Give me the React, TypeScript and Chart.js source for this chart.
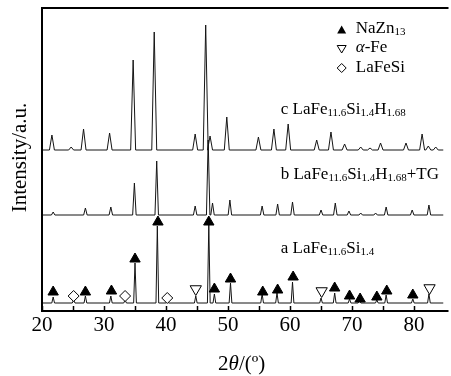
import React, { useEffect, useRef } from 'react';
import { Chart, registerables } from 'chart.js';

Chart.register(...registerables);

// ---------- data (y in arbitrary intensity units) ----------
const xTickLabels = [20, 30, 40, 50, 60, 70, 80];
const xTickMarks = [20, 25, 30, 35, 40, 45, 50, 55, 60, 65, 70, 75, 80];

// trace c: LaFe11.6Si1.4H1.68
const cBase = 160;
const cPeakX = [21.6, 24.7, 26.7, 30.9, 34.7, 38.1, 44.7, 46.4, 47.1, 49.8, 54.9, 57.4, 59.7, 64.3, 66.6, 68.8, 71.4, 72.9, 74.6, 78.7, 81.3, 82.3, 83.5];
const cPeakY = [175, 163, 181, 177, 250, 278, 176, 285, 174, 193, 173, 181, 186, 170, 178, 166, 163, 162, 167, 167, 176, 164, 163];

// trace b: LaFe11.6Si1.4H1.68+TG
const bBase = 95;
const bPeakX = [21.8, 27.0, 31.1, 34.9, 38.5, 44.7, 46.8, 47.5, 50.3, 55.5, 58.0, 60.4, 65.0, 67.3, 69.5, 71.4, 73.8, 75.5, 79.7, 82.4];
const bPeakY = [98, 102, 103, 127, 149, 104, 170, 107, 110, 104, 106, 108, 100, 107, 99, 97, 97, 103, 100, 105];

// trace a: LaFe11.6Si1.4
const aBase = 7;
const aPeakX = [21.8, 25.1, 27.0, 31.1, 33.4, 35.0, 38.6, 40.2, 44.8, 46.9, 47.8, 50.4, 55.5, 57.9, 60.4, 65.0, 67.2, 69.6, 71.2, 74.0, 75.5, 79.8, 82.4];
const aPeakY = [13, 10, 14, 14, 10, 47, 84, 9, 14, 86, 16, 27, 16, 17, 28, 12, 17, 11, 10, 10, 15, 11, 16];

// phase markers
const nazX = [21.8, 27.0, 31.2, 35.0, 38.7, 46.9, 47.8, 50.4, 55.6, 58.0, 60.5, 67.2, 69.6, 71.3, 74.0, 75.6, 79.8];
const nazY = [18, 18, 19, 51, 88, 88, 21, 31, 18, 20, 33, 22, 14, 11, 13, 19, 15];
const feX = [44.8, 65.1, 82.5];
const feY = [21, 19, 22];
const lfsX = [25.1, 33.4, 40.2];
const lfsY = [14, 14, 12];

const xMin = 20;
const xMax = 84.75;
const yMin = -1;
const yMax = 302;

type Part = [string, string?];
const labelC: Part[] = [['c LaFe'], ['11.6', 'sub'], ['Si'], ['1.4', 'sub'], ['H'], ['1.68', 'sub']];
const labelB: Part[] = [['b LaFe'], ['11.6', 'sub'], ['Si'], ['1.4', 'sub'], ['H'], ['1.68', 'sub'], ['+TG']];
const labelA: Part[] = [['a LaFe'], ['11.6', 'sub'], ['Si'], ['1.4', 'sub']];
const legendNaz: Part[] = [['NaZn'], ['13', 'sub']];
const legendFe: Part[] = [['α', 'it'], ['-Fe']];
const legendLfs: Part[] = [['LaFeSi']];
const xTitle: Part[] = [['2'], ['θ', 'it'], ['/(º)']];
const yTitle = 'Intensity/a.u.';

function buildTrace(base: number, xs: number[], ys: number[], hw: number) {
  const pts: { x: number; y: number }[] = [{ x: xMin, y: base }];
  xs.forEach((x, i) => {
    pts.push({ x: x - hw, y: base });
    pts.push({ x, y: ys[i] });
    pts.push({ x: x + hw, y: base });
  });
  pts.push({ x: xMax, y: base });
  return pts;
}

const FONT = '"Liberation Serif", "Times New Roman", serif';

function richWidth(ctx: CanvasRenderingContext2D, parts: Part[], size: number) {
  let w = 0;
  for (const [t, s] of parts) {
    const fs = s === 'sub' ? Math.round(size * 0.65) : size;
    ctx.font = `${s === 'it' ? 'italic ' : ''}${fs}px ${FONT}`;
    w += ctx.measureText(t).width;
  }
  return w;
}

function drawRich(ctx: CanvasRenderingContext2D, x: number, y: number, parts: Part[], size: number, align = 'left') {
  let cx = align === 'center' ? x - richWidth(ctx, parts, size) / 2 : x;
  ctx.textAlign = 'left';
  ctx.textBaseline = 'alphabetic';
  for (const [t, s] of parts) {
    const fs = s === 'sub' ? Math.round(size * 0.65) : size;
    ctx.font = `${s === 'it' ? 'italic ' : ''}${fs}px ${FONT}`;
    ctx.fillText(t, cx, y + (s === 'sub' ? 2 : 0));
    cx += ctx.measureText(t).width;
  }
}

const decor = {
  id: 'decor',
  afterDraw(chart: any) {
    const { ctx, chartArea: ca, scales } = chart;
    const xs = scales.x;
    const ys = scales.y;
    ctx.save();
    ctx.fillStyle = '#000';
    ctx.strokeStyle = '#000';
    // frame (right side lies outside the cropped figure)
    ctx.lineWidth = 2;
    ctx.beginPath();
    ctx.moveTo(ca.right + 5, ca.top);
    ctx.lineTo(ca.left, ca.top);
    ctx.lineTo(ca.left, ca.bottom);
    ctx.lineTo(ca.right + 5, ca.bottom);
    ctx.stroke();
    // inward ticks
    ctx.lineWidth = 1.5;
    for (const v of xTickMarks) {
      const px = Math.round(xs.getPixelForValue(v)) + 0.5;
      ctx.beginPath();
      ctx.moveTo(px, ca.bottom);
      ctx.lineTo(px, ca.bottom - 5);
      ctx.stroke();
    }
    // y title
    ctx.save();
    ctx.translate(20, (ca.top + ca.bottom) / 2 - 2);
    ctx.rotate(-Math.PI / 2);
    ctx.font = `21px ${FONT}`;
    ctx.textAlign = 'center';
    ctx.textBaseline = 'middle';
    ctx.fillText(yTitle, 0, 0);
    ctx.restore();
    // x title
    drawRich(ctx, xs.getPixelForValue(52.2), 370, xTitle, 21, 'center');
    // trace labels
    const lx = xs.getPixelForValue(58.5);
    drawRich(ctx, lx, ys.getPixelForValue(196), labelC, 17);
    drawRich(ctx, lx, ys.getPixelForValue(131), labelB, 17);
    drawRich(ctx, lx, ys.getPixelForValue(57), labelA, 17);
    // legend
    const mx = xs.getPixelForValue(68.33);
    const tx = xs.getPixelForValue(70.6);
    const r1 = ys.getPixelForValue(280);
    const r2 = ys.getPixelForValue(261);
    const r3 = ys.getPixelForValue(242);
    ctx.lineWidth = 1;
    ctx.beginPath();
    ctx.moveTo(mx, r1 - 4.5);
    ctx.lineTo(mx + 4.5, r1 + 3.5);
    ctx.lineTo(mx - 4.5, r1 + 3.5);
    ctx.closePath();
    ctx.fill();
    ctx.beginPath();
    ctx.moveTo(mx - 4.5, r2 - 3.5);
    ctx.lineTo(mx + 4.5, r2 - 3.5);
    ctx.lineTo(mx, r2 + 4);
    ctx.closePath();
    ctx.stroke();
    ctx.beginPath();
    ctx.moveTo(mx, r3 - 4.5);
    ctx.lineTo(mx + 4.5, r3);
    ctx.lineTo(mx, r3 + 4.5);
    ctx.lineTo(mx - 4.5, r3);
    ctx.closePath();
    ctx.stroke();
    drawRich(ctx, tx, ys.getPixelForValue(277), legendNaz, 17);
    drawRich(ctx, tx, ys.getPixelForValue(258.5), legendFe, 17);
    drawRich(ctx, tx, ys.getPixelForValue(238.5), legendLfs, 17);
    ctx.restore();
  },
};

export default function App() {
  const ref = useRef<HTMLCanvasElement>(null);
  useEffect(() => {
    document.body.style.margin = '0';
    const lineColor = '#151515';
    const chart = new Chart(ref.current!, {
      type: 'scatter',
      data: {
        datasets: [
          {
            label: 'NaZn13',
            data: nazX.map((x, i) => ({ x, y: nazY[i] })),
            pointStyle: 'triangle',
            pointRadius: 6,
            backgroundColor: '#000',
            borderColor: '#000',
            borderWidth: 1,
            showLine: false,
          },
          {
            label: 'α-Fe',
            data: feX.map((x, i) => ({ x, y: feY[i] })),
            pointStyle: 'triangle',
            rotation: 180,
            pointRadius: 6.5,
            backgroundColor: '#fff',
            borderColor: '#000',
            borderWidth: 1,
            showLine: false,
          },
          {
            label: 'LaFeSi',
            data: lfsX.map((x, i) => ({ x, y: lfsY[i] })),
            pointStyle: 'rectRot',
            pointRadius: 5.5,
            backgroundColor: '#fff',
            borderColor: '#000',
            borderWidth: 1,
            showLine: false,
          },
          {
            label: 'c',
            data: buildTrace(cBase, cPeakX, cPeakY, 0.4),
            showLine: true,
            pointRadius: 0,
            borderColor: lineColor,
            borderWidth: 1,
          },
          {
            label: 'b',
            data: buildTrace(bBase, bPeakX, bPeakY, 0.28),
            showLine: true,
            pointRadius: 0,
            borderColor: lineColor,
            borderWidth: 1,
          },
          {
            label: 'a',
            data: buildTrace(aBase, aPeakX, aPeakY, 0.22),
            showLine: true,
            pointRadius: 0,
            borderColor: lineColor,
            borderWidth: 1,
          },
        ],
      },
      options: {
        animation: false,
        responsive: true,
        maintainAspectRatio: false,
        devicePixelRatio: 1,
        layout: { padding: { left: 42, top: 8, right: 0, bottom: 0 } },
        plugins: { legend: { display: false }, tooltip: { enabled: false } },
        scales: {
          x: {
            type: 'linear',
            min: xMin,
            max: xMax,
            grid: { display: false },
            border: { display: false },
            afterBuildTicks: (s: any) => {
              s.ticks = xTickLabels.map((v) => ({ value: v }));
            },
            afterFit: (s: any) => {
              s.height = 65;
            },
            ticks: {
              color: '#000',
              padding: -6,
              maxRotation: 0,
              autoSkip: false,
              font: { family: FONT, size: 21 },
              callback: (v: any) => String(v),
            },
          },
          y: {
            type: 'linear',
            display: false,
            min: yMin,
            max: yMax,
          },
        },
      },
      plugins: [decor],
    } as any);
    return () => chart.destroy();
  }, []);
  return (
    <div style={{ position: 'relative', width: 451, height: 376, overflow: 'hidden' }}>
      <canvas ref={ref} />
    </div>
  );
}
